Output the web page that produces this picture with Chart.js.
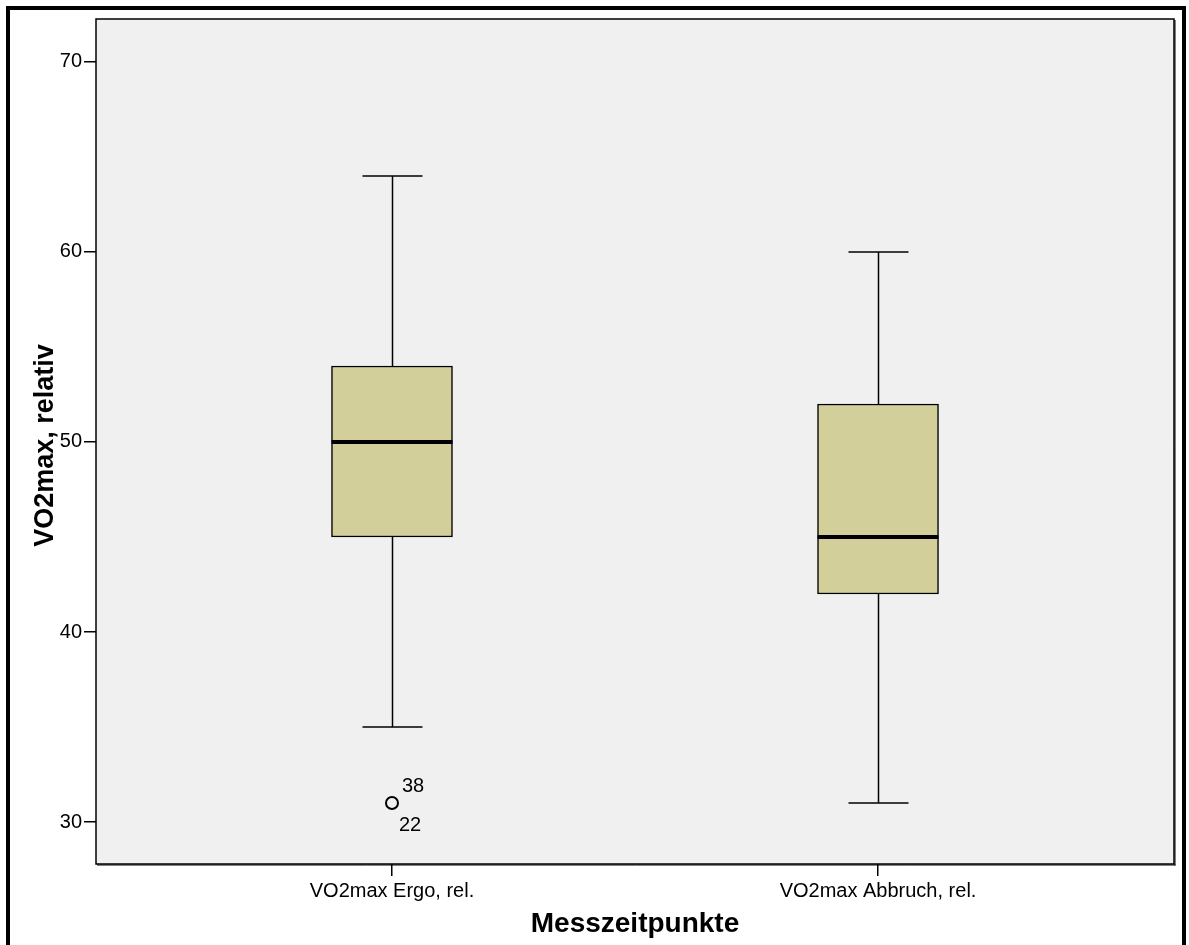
<!DOCTYPE html>
<html>
<head>
<meta charset="utf-8">
<title>VO2max, relativ</title>
<script src="https://cdn.jsdelivr.net/npm/chart.js@4/dist/chart.umd.min.js"></script>
<style>
  html, body { margin: 0; padding: 0; background: #ffffff; overflow: hidden; }
  canvas { display: block; }
</style>
</head>
<body>
<canvas id="chart" width="1189" height="945"></canvas>
<script>
// Box plot summary per measurement point
const categories   = ['VO2max Ergo, rel.', 'VO2max Abbruch, rel.'];
const whiskerLow   = [35, 31];
const q1           = [45, 42];
const median       = [50, 45];
const q3           = [54, 52];
const whiskerHigh  = [64, 60];

// Outliers: category index, value, case numbers
const outlierCategory = [0];
const outlierValue    = [31];
const outlierCases    = [['38', '22']];

const yTicks = [30, 40, 50, 60, 70];

const FONT = 'Liberation Sans, Arial, Helvetica, sans-serif';
const boxFill = '#d3cf9a';
const plotBg = '#f0f0f0';

// Background, whiskers, median lines, frames and axis titles
const boxPlotPlugin = {
  id: 'boxPlotExtras',
  beforeDatasetsDraw(chart) {
    const { ctx, chartArea: a, scales: { x, y } } = chart;
    ctx.save();
    ctx.fillStyle = plotBg;
    ctx.fillRect(a.left, a.top, a.right - a.left, a.bottom - a.top);
    ctx.strokeStyle = '#000';
    ctx.lineWidth = 1.5;
    const capHalf = 30;
    categories.forEach((c, i) => {
      const cx = Math.round(x.getPixelForValue(i + 1)) + 0.5;
      const yLo = y.getPixelForValue(whiskerLow[i]);
      const yHi = y.getPixelForValue(whiskerHigh[i]);
      const yQ1 = y.getPixelForValue(q1[i]);
      const yQ3 = y.getPixelForValue(q3[i]);
      ctx.beginPath();
      ctx.moveTo(cx, yQ3); ctx.lineTo(cx, yHi);
      ctx.moveTo(cx - capHalf, yHi); ctx.lineTo(cx + capHalf, yHi);
      ctx.moveTo(cx, yQ1); ctx.lineTo(cx, yLo);
      ctx.moveTo(cx - capHalf, yLo); ctx.lineTo(cx + capHalf, yLo);
      ctx.stroke();
    });
    ctx.restore();
  },
  afterDatasetsDraw(chart) {
    const { ctx, chartArea: a, scales: { x, y } } = chart;
    const bars = chart.getDatasetMeta(0).data;
    ctx.save();
    ctx.strokeStyle = '#000';
    ctx.lineWidth = 4;
    categories.forEach((c, i) => {
      const bar = bars[i];
      const half = bar.width / 2;
      const my = y.getPixelForValue(median[i]);
      ctx.beginPath();
      ctx.moveTo(bar.x - half, my);
      ctx.lineTo(bar.x + half, my);
      ctx.stroke();
    });

    // case numbers beside outliers
    ctx.fillStyle = '#000';
    ctx.font = '20px ' + FONT;
    ctx.textAlign = 'left';
    ctx.textBaseline = 'alphabetic';
    outlierCategory.forEach((ci, k) => {
      const px = x.getPixelForValue(ci + 1);
      const py = y.getPixelForValue(outlierValue[k]);
      const ids = outlierCases[k];
      ctx.fillText(ids[0], px + 10, py - 11);
      if (ids[1]) ctx.fillText(ids[1], px + 7, py + 28);
    });

    // plot frame
    ctx.strokeStyle = '#000';
    ctx.lineWidth = 1.5;
    ctx.strokeRect(a.left, a.top, a.right - a.left, a.bottom - a.top);
    ctx.lineWidth = 1;
    ctx.beginPath();
    ctx.moveTo(a.right + 1, a.top + 1); ctx.lineTo(a.right + 1, a.bottom + 1.5);
    ctx.moveTo(a.left + 1, a.bottom + 1); ctx.lineTo(a.right + 1.5, a.bottom + 1);
    ctx.stroke();
    ctx.restore();
  },
  afterDraw(chart) {
    const { ctx, chartArea: a, width } = chart;
    ctx.save();
    // outer frame
    ctx.fillStyle = '#000';
    ctx.fillRect(6, 6, width - 12, 4);
    ctx.fillRect(6, 6, 4, chart.height);
    ctx.fillRect(width - 7, 6, 4, chart.height);

    // axis titles
    ctx.font = 'bold 28px ' + FONT;
    ctx.textAlign = 'center';
    ctx.textBaseline = 'alphabetic';
    ctx.fillText('Messzeitpunkte', (a.left + a.right) / 2, 932);
    ctx.font = 'bold 27px ' + FONT;
    ctx.translate(53, (a.top + a.bottom) / 2 + 4);
    ctx.rotate(-Math.PI / 2);
    ctx.fillText('VO2max, relativ', 0, 0);
    ctx.restore();
  }
};

new Chart(document.getElementById('chart'), {
  type: 'bar',
  data: {
    datasets: [
      {
        type: 'bar',
        data: categories.map((c, i) => ({ x: i + 1, y: [q1[i], q3[i]] })),
        backgroundColor: boxFill,
        borderColor: '#000',
        borderWidth: 1.5,
        borderSkipped: false,
        barThickness: 121
      },
      {
        type: 'scatter',
        data: outlierCategory.map((ci, k) => ({ x: ci + 1, y: outlierValue[k] })),
        pointStyle: 'circle',
        pointRadius: 6,
        pointBorderWidth: 2,
        pointBorderColor: '#000',
        pointBackgroundColor: 'rgba(0,0,0,0)'
      }
    ]
  },
  options: {
    responsive: false,
    animation: false,
    devicePixelRatio: 1,
    layout: { padding: { top: 19, right: 15, left: 0, bottom: 0 } },
    plugins: { legend: { display: false }, tooltip: { enabled: false } },
    scales: {
      x: {
        type: 'linear',
        offset: false,
        min: 0.391,
        max: 2.609,
        afterBuildTicks(scale) { scale.ticks = categories.map((c, i) => ({ value: i + 1 })); },
        afterFit(scale) { scale.height = 81; },
        ticks: {
          color: '#000',
          font: { family: FONT, size: 20 },
          padding: 3,
          autoSkip: false,
          maxRotation: 0,
          callback: (v) => categories[Math.round(v) - 1]
        },
        grid: { display: true, offset: false, drawOnChartArea: false, drawTicks: true, tickLength: 12, color: '#000', lineWidth: 1.5 },
        border: { display: false }
      },
      y: {
        type: 'linear',
        min: 27.79,
        max: 72.26,
        afterBuildTicks(scale) { scale.ticks = yTicks.map(v => ({ value: v })); },
        afterFit(scale) { scale.width = 96; },
        ticks: {
          color: '#000',
          font: { family: FONT, size: 20 },
          padding: 2
        },
        grid: { display: true, drawOnChartArea: false, drawTicks: true, tickLength: 12, color: '#000', lineWidth: 1.5 },
        border: { display: false }
      }
    }
  },
  plugins: [boxPlotPlugin]
});
</script>
</body>
</html>
